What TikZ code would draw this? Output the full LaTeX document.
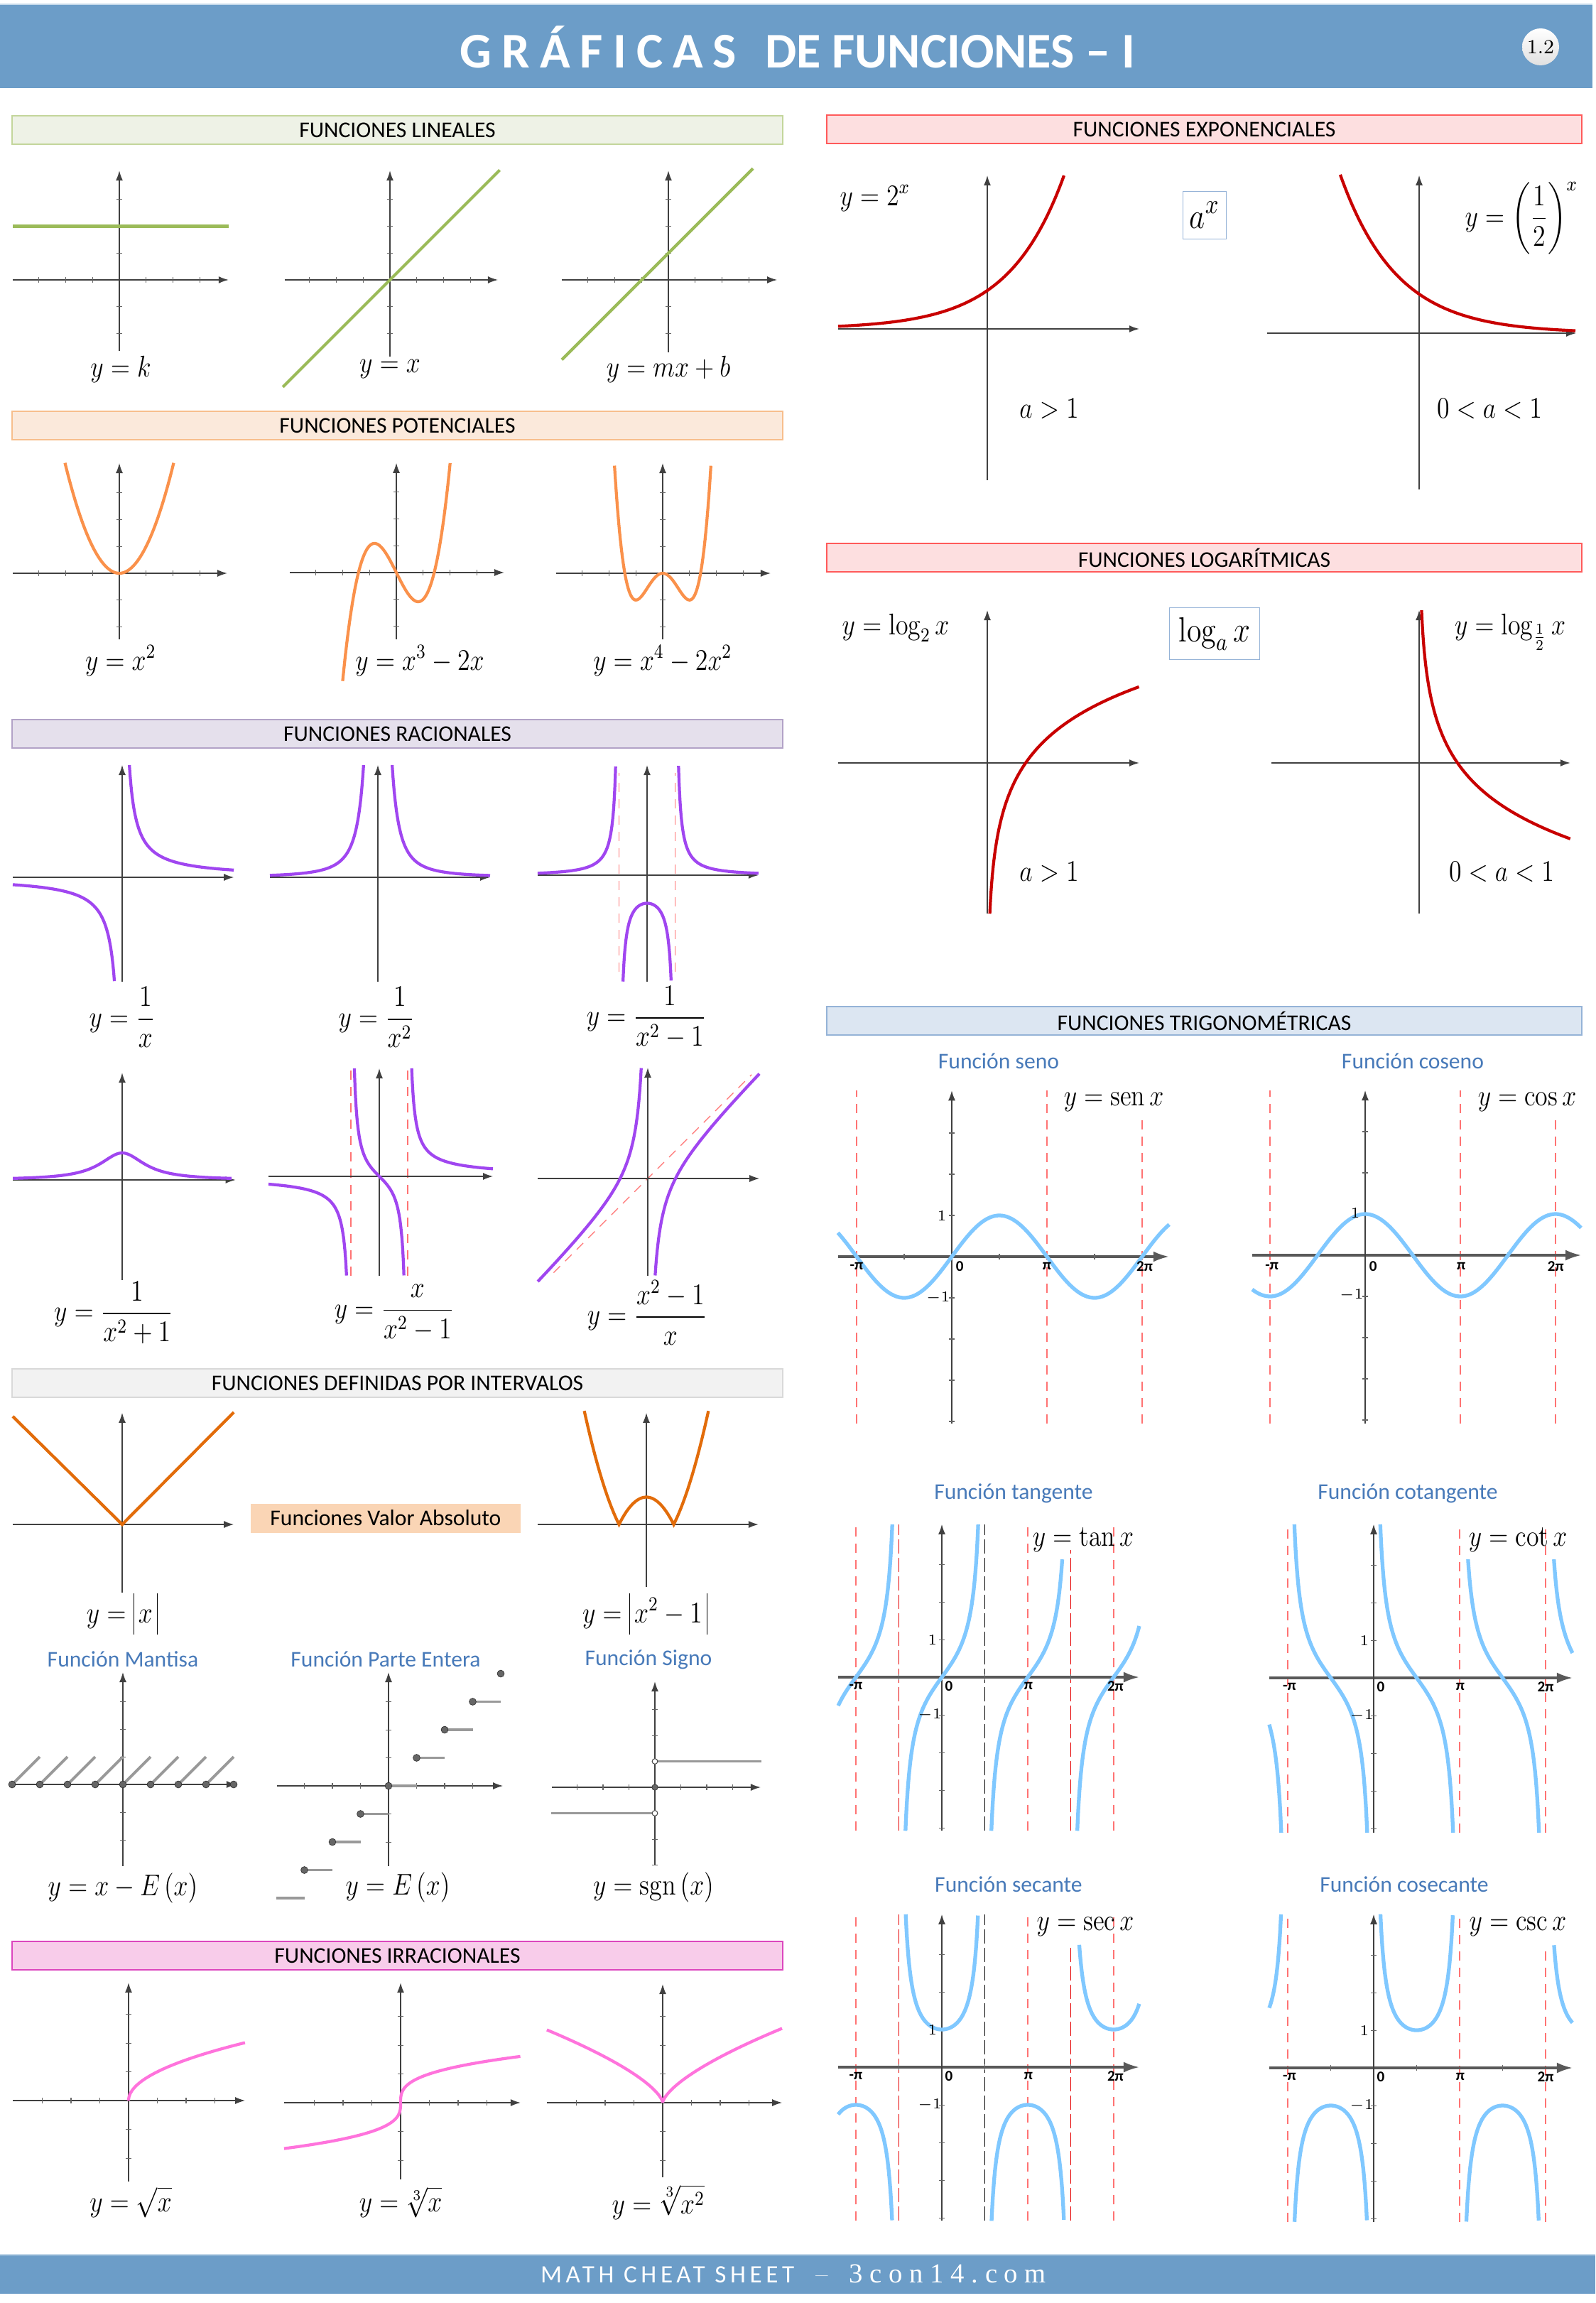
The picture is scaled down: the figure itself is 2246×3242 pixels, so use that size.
\documentclass[tikz,border=0pt]{standalone}
\usepackage{fontspec}
\usepackage{amsmath}
\usepackage{graphicx}
\usetikzlibrary{arrows.meta}
\newfontfamily\calibri{Carlito}
\newfontfamily\tnr{Liberation Serif}

\definecolor{barra}{RGB}{108,157,200}
\definecolor{verde}{RGB}{155,187,89}
\definecolor{naranja}{RGB}{250,145,75}
\definecolor{morado}{RGB}{160,70,240}
\definecolor{ocre}{RGB}{226,108,10}
\definecolor{rosa}{RGB}{255,115,220}
\definecolor{rojo}{RGB}{200,0,0}
\definecolor{celeste}{RGB}{128,200,255}
\definecolor{azultxt}{RGB}{72,122,185}
\definecolor{cajaazul}{RGB}{149,179,215}
\definecolor{valabs}{RGB}{250,213,181}

\newcommand{\fml}[1]{\scalebox{0.85}[1]{$\displaystyle #1$}}
\newcommand{\bv}{\mathord{\vrule width 0.45pt height 2.3ex depth 0.9ex}}
\newcommand{\ejes}[4]{\draw[eje] (#1,0) -- (#2,0); \draw[eje] (0,#3) -- (0,#4);}
\newcommand{\marcas}[2]{\foreach \tk in {#1} {\draw[marca] (\tk,0) +(0,-1.2pt) -- +(0,1.2pt);}\foreach \tk in {#2} {\draw[marca] (0,\tk) +(-1.2pt,0) -- +(1.2pt,0);}}

\tikzset{
  eje/.style={draw=black!75, line width=0.4pt, -{Latex[length=1.4mm,width=1mm]}},
  ejex/.style={draw=black!65, line width=0.9pt, -{Latex[length=2.2mm,width=1.5mm]}},
  marca/.style={draw=black!60, line width=0.3pt},
  curva/.style={line width=1.2pt},
  curvatrig/.style={draw=celeste, line width=1.5pt},
  asintota/.style={draw=red!55, line width=0.35pt, dash pattern=on 1.3mm off 1mm},
  asinfuerte/.style={draw=red!90!black, line width=0.4pt, dash pattern=on 2mm off 0.6mm},
  asinnegra/.style={draw=black, line width=0.3pt, dash pattern=on 2mm off 0.6mm},
  cabecera/.style={draw, line width=0.6pt, minimum height=4mm, inner sep=0pt, font=\calibri\fontsize{9}{10}\selectfont},
  izq/.style={cabecera, minimum width=108.5mm},
  der/.style={cabecera, minimum width=106.3mm},
  subtitulo/.style={text=azultxt, inner sep=0pt, font=\calibri\fontsize{9}{10}\selectfont},
  formula/.style={inner sep=0pt, font=\fontsize{12}{14}\selectfont},
  etiq/.style={inner sep=0pt, font=\calibri\bfseries\fontsize{6}{7}\selectfont},
  etiqy/.style={inner sep=0pt, font=\fontsize{6}{7}\selectfont},
  punto/.style={fill=black!60, draw=black!80, line width=0.2pt},
  escalon/.style={draw=black!40, line width=1.1pt},
}

\begin{document}
\begin{tikzpicture}[x=0.1mm,y=-0.1mm]
%%%%% START %%%%%
\useasboundingbox (0,0) rectangle (2246,3242);

% cabecera y pie
\fill[barra] (0,6) rectangle (2242,124);
\draw[barra!40, line width=0.8pt] (0,6) -- (2242,6);
\node[text=white, font=\calibri\bfseries\fontsize{20}{24}\selectfont] (titulo) at (1123,66)
  {{\addfontfeatures{LetterSpace=20}GRÁFICAS}\hspace{4mm}DE FUNCIONES – I};
\node[circle, minimum size=5.2mm, inner sep=0pt, top color=white, bottom color=black!12, font=\fontsize{8}{9}\selectfont] (num) at (2169,66) {1.2};
\fill[barra] (0,3174) rectangle (2246,3229);
\draw[barra!40, line width=0.8pt] (0,3174) -- (2246,3174);
\node[text=white] (pie) at (1117,3201)
  {{\calibri\fontsize{10}{11}\selectfont\addfontfeatures{LetterSpace=16}MATH CHEAT SHEET}\hspace{3mm}–\hspace{3mm}{\tnr\fontsize{11}{12}\selectfont\addfontfeatures{LetterSpace=25}3con14.com}};

% rotulos de seccion
\node[izq, fill={rgb,255:red,238;green,242;blue,230}, draw={rgb,255:red,195;green,214;blue,155}] (hlin) at (559.5,183) {FUNCIONES LINEALES};
\node[izq, fill={rgb,255:red,251;green,233;blue,219}, draw={rgb,255:red,247;green,190;blue,140}] (hpot) at (559.5,599) {FUNCIONES POTENCIALES};
\node[izq, fill={rgb,255:red,229;green,224;blue,236}, draw={rgb,255:red,178;green,162;blue,199}] (hrac) at (559.5,1033) {FUNCIONES RACIONALES};
\node[izq, fill={rgb,255:red,242;green,242;blue,242}, draw={rgb,255:red,217;green,217;blue,217}] (hint) at (559.5,1947) {FUNCIONES DEFINIDAS POR INTERVALOS};
\node[izq, fill={rgb,255:red,248;green,204;blue,234}, draw={rgb,255:red,220;green,70;blue,190}] (hirr) at (559.5,2753) {FUNCIONES IRRACIONALES};
\node[der, fill={rgb,255:red,253;green,223;blue,224}, draw={rgb,255:red,255;green,90;blue,90}] (hexp) at (1695.5,182) {FUNCIONES EXPONENCIALES};
\node[der, fill={rgb,255:red,253;green,223;blue,224}, draw={rgb,255:red,255;green,90;blue,90}] (hlog) at (1695.5,785) {FUNCIONES LOGARÍTMICAS};
\node[der, fill={rgb,255:red,220;green,230;blue,242}, draw=cajaazul] (htri) at (1695.5,1437) {FUNCIONES TRIGONOMÉTRICAS};

% lineales
\begin{scope}[shift={(168,394)},x=3.77mm,y=3.77mm]
  \ejes{-3.98}{4.08}{-2.65}{4.08}
  \marcas{-3,-2,-1,1,2,3}{-2,-1,1,2,3}
  \draw[verde, curva] (-3.98,2) -- (4.08,2);
\end{scope}
\begin{scope}[shift={(549,394)},x=3.77mm,y=3.77mm]
  \ejes{-3.93}{4.03}{-2.86}{4.08}
  \marcas{-3,-2,-1,1,2,3}{-2,-1,1,2,3}
  \draw[verde, curva] (-4,-4) -- (4.1,4.1);
\end{scope}
\begin{scope}[shift={(941,394)},x=3.77mm,y=3.77mm]
  \ejes{-3.98}{4.06}{-2.7}{4.08}
  \marcas{-3,-2,-1,1,2,3}{-2,-1,1,2,3}
  \draw[verde, curva] (-3.98,-2.98) -- (3.16,4.16);
\end{scope}
\node[formula] (lk) at (170,520) {\fml{y=k}};
\node[formula] (lx) at (549,520) {\fml{y=x}};
\node[formula] (lmx) at (941,520) {\fml{y=mx+b}};

% potenciales
\begin{scope}[shift={(168,807)},x=3.77mm,y=3.77mm]
  \ejes{-3.98}{4.03}{-2.47}{4.11}
  \marcas{-3,-2,-1,1,2,3}{-2,-1,1,2,3}
  \draw[naranja, curva, domain=-2.03:2.03, samples=80] plot (\x,{\x*\x});
\end{scope}
\begin{scope}[shift={(558,806)},x=3.77mm,y=3.77mm]
  \ejes{-3.98}{4.03}{-2.49}{4.09}
  \marcas{-3,-2,-1,1,2,3}{-2,-1,1,2,3}
  \draw[naranja, curva, domain=-2.005:2.01, samples=100] plot (\x,{\x*\x*\x-2*\x});
\end{scope}
\begin{scope}[shift={(933,807)},x=3.77mm,y=3.77mm]
  \ejes{-3.98}{4.03}{-2.47}{4.11}
  \marcas{-3,-2,-1,1,2,3}{-2,-1,1,2,3}
  \draw[naranja, curva, domain=-1.8:1.8, samples=100] plot (\x,{\x*\x*\x*\x-2*\x*\x});
\end{scope}
\node[formula] (lp2) at (170,930) {\fml{y=x^2}};
\node[formula] (lp3) at (591,930) {\fml{y=x^3-2x}};
\node[formula] (lp4) at (933,930) {\fml{y=x^4-2x^2}};

% racionales
\begin{scope}[shift={(172,1235)},x=4mm,y=4mm]
  \ejes{-3.85}{3.93}{-3.68}{3.95}
  \draw[morado, curva, domain=0.253:3.93, samples=150] plot (\x,{1/\x});
  \draw[morado, curva, domain=-3.85:-0.272, samples=150] plot (\x,{1/\x});
\end{scope}
\begin{scope}[shift={(532,1235)},x=4mm,y=4mm]
  \ejes{-3.8}{3.95}{-3.68}{3.95}
  \draw[morado, curva, domain=-3.8:-0.503, samples=150] plot (\x,{1/(\x*\x)});
  \draw[morado, curva, domain=0.503:3.95, samples=150] plot (\x,{1/(\x*\x)});
\end{scope}
\begin{scope}[shift={(911,1232)},x=3.95mm,y=3.95mm]
  \draw[asintota] (-1,-3.44) -- (-1,3.65);
  \draw[asintota] (1,-3.44) -- (1,3.65);
  \ejes{-3.9}{3.97}{-3.8}{3.92}
  \draw[morado, curva, domain=-3.9:-1.121, samples=150] plot (\x,{1/(\x*\x-1)});
  \draw[morado, curva, domain=-0.858:0.858, samples=100] plot (\x,{1/(\x*\x-1)});
  \draw[morado, curva, domain=1.121:3.97, samples=150] plot (\x,{1/(\x*\x-1)});
\end{scope}
\node[formula] (lr1) at (172,1432) {\fml{y=\frac{1}{x}}};
\node[formula] (lr2) at (530,1432) {\fml{y=\frac{1}{x^2}}};
\node[formula] (lr3) at (910,1432) {\fml{y=\frac{1}{x^2-1}}};

\begin{scope}[shift={(172,1661)},x=3.8mm,y=3.8mm]
  \ejes{-4.05}{4.2}{-3.7}{3.97}
  \draw[morado, curva, domain=-4.05:4.05, samples=100] plot (\x,{1/(\x*\x+1)});
\end{scope}
\begin{scope}[shift={(534,1656)},x=4mm,y=4mm]
  \draw[asintota] (-1,-3.5) -- (-1,3.8);
  \draw[asintota] (1,-3.5) -- (1,3.8);
  \ejes{-3.9}{4.0}{-3.5}{3.8}
  \draw[morado, curva, domain=-3.9:-1.153, samples=150] plot (\x,{\x/(\x*\x-1)});
  \draw[morado, curva, domain=-0.877:0.867, samples=150] plot (\x,{\x/(\x*\x-1)});
  \draw[morado, curva, domain=1.14:4.0, samples=150] plot (\x,{\x/(\x*\x-1)});
\end{scope}
\begin{scope}[shift={(912,1659)},x=3.9mm,y=3.9mm]
  \draw[asintota] (-3.4,-3.4) -- (3.75,3.75);
  \ejes{-3.97}{4.03}{-3.5}{4.0}
  \draw[morado, curva, domain=-3.97:-0.236, samples=150] plot (\x,{\x-1/\x});
  \draw[morado, curva, domain=0.2656:4.03, samples=150] plot (\x,{\x-1/\x});
\end{scope}
\node[formula] (lr4) at (160,1848) {\fml{y=\frac{1}{x^2+1}}};
\node[formula] (lr5) at (555,1848) {\fml{y=\frac{x}{x^2-1}}};
\node[formula] (lr6) at (911,1848) {\fml{y=\frac{x^2-1}{x}}};

% definidas por intervalos
\begin{scope}[shift={(172,2146)},x=3.9mm,y=3.9mm]
  \ejes{-3.95}{4.03}{-2.46}{4.03}
  \draw[ocre, curva] (-3.95,3.9) -- (0,0) -- (4.03,4.05);
\end{scope}
\node[fill=valabs, minimum width=38mm, minimum height=4.1mm, inner sep=0pt, font=\calibri\fontsize{9}{10}\selectfont] (vabs) at (543,2137) {Funciones Valor Absoluto};
\begin{scope}[shift={(910,2146)},x=3.85mm,y=3.85mm]
  \ejes{-3.97}{4.1}{-2.29}{4.08}
  \draw[ocre, curva, domain=-2.27:-1, samples=50] plot (\x,{\x*\x-1}) -- plot[domain=-1:1, samples=60] (\x,{1-\x*\x}) -- plot[domain=1:2.27, samples=50] (\x,{\x*\x-1});
\end{scope}
\node[formula] (la1) at (172,2272) {\fml{y=\bv\, x\,\bv}};
\node[formula] (la2) at (908,2272) {\fml{y=\bv\, x^2-1\,\bv}};

\node[subtitulo] (smant) at (173,2336) {Función Mantisa};
\node[subtitulo] (sent) at (543,2336) {Función Parte Entera};
\node[subtitulo] (ssig) at (913,2336) {Función Signo};

\begin{scope}[shift={(173,2512)},x=3.9mm,y=3.9mm]
  \ejes{-3.97}{4.1}{-2.95}{4.05}
  \marcas{-3,-2,-1,1,2,3}{-2,-1,1,2,3}
  \foreach \k in {-4,...,3} {\draw[escalon] (\k,0) -- (\k+1,1);}
  \foreach \k in {-4,...,4} {\draw[punto] (\k,0) circle (1.4pt);}
\end{scope}
\begin{scope}[shift={(547,2514)},x=3.95mm,y=3.95mm]
  \ejes{-3.97}{4.08}{-2.86}{4.05}
  \marcas{-3,-2,-1,1,2,3}{-2,-1,1,2,3}
  \foreach \k in {-4,...,3} {\draw[escalon] (\k,\k) -- (\k+1,\k);}
  \foreach \k in {-3,...,4} {\draw[punto] (\k,\k) circle (1.4pt);}
\end{scope}
\begin{scope}[shift={(922,2516)},x=3.65mm,y=3.65mm]
  \ejes{-3.97}{4.08}{-3.0}{4.08}
  \marcas{-3,-2,-1,1,2,3}{-3,-2,-1,1,2,3}
  \draw[escalon] (0,1) -- (4.1,1);
  \draw[escalon] (-4.0,-1) -- (0,-1);
  \draw[fill=white, draw=black!70, line width=0.3pt] (0,1) circle (1.1pt);
  \draw[fill=white, draw=black!70, line width=0.3pt] (0,-1) circle (1.1pt);
  \draw[punto] (0,0) circle (1.2pt);
\end{scope}
\node[formula] (lm) at (173,2658) {\fml{y=x-E\left(x\right)}};
\node[formula] (le) at (560,2657) {\fml{y=E\left(x\right)}};
\node[formula] (ls) at (920,2657) {\fml{y=\operatorname{sgn}\left(x\right)}};

% irracionales
\begin{scope}[shift={(181,2957)},x=4.05mm,y=4.05mm]
  \ejes{-4.02}{4.05}{-2.81}{4.1}
  \marcas{-3,-2,-1,1,2,3}{-2,-1,1,2,3}
  \draw[rosa, curva, domain=0:2.0125, samples=80] plot ({\x*\x},\x);
\end{scope}
\begin{scope}[shift={(564,2960)},x=4.05mm,y=4.05mm]
  \ejes{-4.05}{4.17}{-2.67}{4.17}
  \marcas{-3,-2,-1,1,2,3}{-2,-1,1,2,3}
  \draw[rosa, curva, domain=-1.594:1.61, samples=100] plot ({\x*\x*\x},\x);
\end{scope}
\begin{scope}[shift={(933,2960)},x=4.05mm,y=4.05mm]
  \ejes{-4.02}{4.15}{-2.6}{4.12}
  \marcas{-3,-2,-1,1,2,3}{-2,-1,1,2,3}
  \draw[rosa, curva, domain=-1.591:1.607, samples=100] plot ({\x*\x*\x},{\x*\x});
\end{scope}
\node[formula] (li1) at (184,3100) {\fml{y=\sqrt{x}}};
\node[formula] (li2) at (564,3100) {\fml{y=\sqrt[3]{x}}};
\node[formula] (li3) at (927,3100) {\fml{y=\sqrt[3]{x^2}}};

% exponenciales
\begin{scope}[shift={(1390,463)},x=5.4mm,y=5.4mm]
  \draw[eje] (-3.89,0) -- (3.96,0);
  \draw[eje] (0,-3.94) -- (0,4.0);
  \draw[rojo, curva, domain=-3.89:2.0, samples=100] plot (\x,{pow(2,\x)});
\end{scope}
\begin{scope}[shift={(1998,469)},x=5.5mm,y=5.5mm]
  \draw[eje] (-3.9,0) -- (4.02,0);
  \draw[eje] (0,-4.0) -- (0,4.04);
  \draw[rojo, curva, domain=-2.02:4.0, samples=100] plot (\x,{pow(0.5,\x)});
\end{scope}
\node[formula] (le1) at (1232,279) {\fml{y=2^x}};
\node[formula] (le2) at (1477,575) {\fml{a>1}};
\node[formula] (le3) at (2142,307) {\fml{y=\left(\frac{1}{2}\right)^x}};
\node[formula] (le4) at (2097,575) {\fml{0<a<1}};
\node[draw=cajaazul, line width=0.5pt, minimum width=6.1mm, minimum height=6.7mm, inner sep=0pt, font=\fontsize{15}{17}\selectfont] (bax) at (1696,303) {\fml{a^x}};

% logaritmicas
\begin{scope}[shift={(1390,1074)},x=5.4mm,y=5.4mm]
  \draw[eje] (-3.89,0) -- (3.96,0);
  \draw[eje] (0,-3.93) -- (0,3.98);
  \draw[rojo, curva, domain=-3.93:1.985, samples=120] plot ({pow(2,\x)},\x);
\end{scope}
\begin{scope}[shift={(1998,1074)},x=5.4mm,y=5.4mm]
  \draw[eje] (-3.85,0) -- (3.94,0);
  \draw[eje] (0,-3.93) -- (0,3.98);
  \draw[rojo, curva, domain=-1.978:3.98, samples=120] plot ({pow(0.5,\x)},\x);
\end{scope}
\node[formula] (ll1) at (1261,884) {\fml{y=\log_2 x}};
\node[formula] (ll2) at (1477,1227) {\fml{a>1}};
\node[formula] (ll3) at (2126,890) {\fml{y=\log_{\frac{1}{2}} x}};
\node[formula] (ll4) at (2114,1227) {\fml{0<a<1}};
\node[draw=cajaazul, line width=0.5pt, minimum width=12.7mm, minimum height=7.3mm, inner sep=0pt, font=\fontsize{14}{16}\selectfont] (blog) at (1710,892) {\fml{\log_a x}};

% trigonometricas
\node[subtitulo] (ssen) at (1406,1494) {Función seno};
\node[subtitulo] (scos) at (1989,1494) {Función coseno};
\node[subtitulo] (stan) at (1427,2102) {Función tangente};
\node[subtitulo] (scot) at (1982,2102) {Función cotangente};
\node[subtitulo] (ssec) at (1420,2653) {Función secante};
\node[subtitulo] (scsc) at (1977,2653) {Función cosecante};

\begin{scope}[shift={(1340,1769)},x=4.265mm,y=5.8mm]
  \draw[asintota] (-pi,-4.05) -- (-pi,4.03);
  \draw[asintota] (pi,-4.05) -- (pi,4.03);
  \draw[asintota] (2*pi,-4.05) -- (2*pi,3.34);
  \draw[ejex] (-3.75,0) -- (7.17,0);
  \draw[eje] (0,-4.05) -- (0,4.03);
  \marcas{-1.5708,1.5708,4.7124}{-4,-3,-2,-1,1,2,3}
  \draw[curvatrig, domain=-3.76:7.18, samples=150] plot (\x,{sin(\x r)});
  \node[etiq] (sa) at (-pi,-0.24) {-π};
  \node[etiq] (sb) at (0.26,-0.24) {0};
  \node[etiq] (sc) at (pi,-0.24) {π};
  \node[etiq] (sd) at (6.37,-0.24) {2π};
  \node[etiqy] (se) at (-0.33,1) {1};
  \node[etiqy] (sf) at (-0.45,-1) {$-1$};
\end{scope}
\node[formula] (lsen) at (1568,1551) {\fml{y=\operatorname{sen} x}};

\begin{scope}[shift={(1922,1767)},x=4.265mm,y=5.8mm]
  \draw[asintota] (-pi,-4.09) -- (-pi,4.0);
  \draw[asintota] (pi,-4.09) -- (pi,4.0);
  \draw[asintota] (2*pi,-4.09) -- (2*pi,3.31);
  \draw[ejex] (-3.73,0) -- (7.13,0);
  \draw[eje] (0,-4.09) -- (0,4.0);
  \marcas{-1.5708,1.5708,4.7124}{-4,-3,-2,-1,1,2,3}
  \draw[curvatrig, domain=-3.73:7.13, samples=150] plot (\x,{cos(\x r)});
  \node[etiq] (ca) at (-3.08,-0.27) {-π};
  \node[etiq] (cb) at (0.26,-0.27) {0};
  \node[etiq] (cc) at (3.17,-0.27) {π};
  \node[etiq] (cd) at (6.29,-0.27) {2π};
  \node[etiqy] (ce) at (-0.33,1.03) {1};
  \node[etiqy] (cf) at (-0.45,-0.97) {$-1$};
\end{scope}
\node[formula] (lcos) at (2150,1551) {\fml{y=\cos x}};

\begin{scope}[shift={(1326,2361)},x=3.85mm,y=5.3mm]
  \draw[asintota] (-pi,-4.08) -- (-pi,4.06);
  \draw[asintota] (pi,-4.08) -- (pi,4.06);
  \draw[asintota] (2*pi,-4.08) -- (2*pi,4.06);
  \draw[asinfuerte] (-pi/2,-4.08) -- (-pi/2,4.06);
  \draw[asinfuerte] (3*pi/2,-4.08) -- (3*pi/2,3.38);
  \draw[asinnegra] (pi/2,-4.08) -- (pi/2,4.06);
  \draw[ejex] (-3.79,0) -- (7.22,0);
  \draw[eje] (0,-4.08) -- (0,4.06);
  \marcas{-1.5708,1.5708,4.7124}{-4,-3,-2,-1,1,2,3}
  \draw[curvatrig, domain=-0.757:4.06, samples=120] plot ({rad(atan(\x))-pi},\x);
  \draw[curvatrig, domain=-4.08:4.06, samples=150] plot ({rad(atan(\x))},\x);
  \draw[curvatrig, domain=-4.08:3.13, samples=150] plot ({rad(atan(\x))+pi},\x);
  \draw[curvatrig, domain=-4.08:1.36, samples=120] plot ({rad(atan(\x))+2*pi},\x);
  \node[etiq] (ta) at (-pi,-0.23) {-π};
  \node[etiq] (tb) at (0.26,-0.23) {0};
  \node[etiq] (tc) at (3.17,-0.23) {π};
  \node[etiq] (td) at (6.35,-0.23) {2π};
  \node[etiqy] (te) at (-0.34,1) {1};
  \node[etiqy] (tf) at (-0.44,-1) {$-1$};
\end{scope}
\node[formula] (ltan) at (1525,2168) {\fml{y=\tan x}};

\begin{scope}[shift={(1934,2362)},x=3.85mm,y=5.3mm]
  \draw[asintota] (-pi,-4.11) -- (-pi,4.08);
  \draw[asintota] (pi,-4.11) -- (pi,4.08);
  \draw[asintota] (2*pi,-4.11) -- (2*pi,4.08);
  \draw[ejex] (-3.82,0) -- (7.27,0);
  \draw[eje] (0,-4.11) -- (0,4.08);
  \marcas{-1.5708,1.5708,4.7124}{-4,-3,-2,-1,1,2,3}
  \draw[curvatrig, domain=-4.11:-1.238, samples=80] plot ({-3*pi/2-rad(atan(\x))},\x);
  \draw[curvatrig, domain=-4.11:4.08, samples=150] plot ({-pi/2-rad(atan(\x))},\x);
  \draw[curvatrig, domain=-4.11:4.08, samples=150] plot ({pi/2-rad(atan(\x))},\x);
  \draw[curvatrig, domain=-4.11:3.15, samples=150] plot ({3*pi/2-rad(atan(\x))},\x);
  \draw[curvatrig, domain=0.661:3.15, samples=80] plot ({5*pi/2-rad(atan(\x))},\x);
  \node[etiq] (ka) at (-3.08,-0.23) {-π};
  \node[etiq] (kb) at (0.26,-0.23) {0};
  \node[etiq] (kc) at (3.17,-0.23) {π};
  \node[etiq] (kd) at (6.29,-0.23) {2π};
  \node[etiqy] (ke) at (-0.34,1) {1};
  \node[etiqy] (kf) at (-0.44,-1) {$-1$};
\end{scope}
\node[formula] (lcot) at (2137,2168) {\fml{y=\cot x}};

\begin{scope}[shift={(1326,2910)},x=3.85mm,y=5.3mm]
  \draw[asintota] (-pi,-4.08) -- (-pi,4.06);
  \draw[asintota] (pi,-4.08) -- (pi,4.06);
  \draw[asintota] (2*pi,-4.08) -- (2*pi,4.06);
  \draw[asinfuerte] (-pi/2,-4.08) -- (-pi/2,4.06);
  \draw[asinfuerte] (3*pi/2,-4.08) -- (3*pi/2,3.25);
  \draw[asinnegra] (pi/2,-4.08) -- (pi/2,4.06);
  \draw[ejex] (-3.79,0) -- (7.22,0);
  \draw[eje] (0,-4.08) -- (0,4.06);
  \marcas{-1.5708,1.5708,4.7124}{-4,-3,-2,-1,1,2,3}
  \draw[curvatrig, domain=-3.79:-1.8183, samples=200] plot (\x,{1/cos(\x r)});
  \draw[curvatrig, domain=-1.3219:1.3219, samples=200] plot (\x,{1/cos(\x r)});
  \draw[curvatrig, domain=1.8183:4.4649, samples=200] plot (\x,{1/cos(\x r)});
  \draw[curvatrig, domain=5.0252:7.22, samples=200] plot (\x,{1/cos(\x r)});
  \node[etiq] (ea) at (-pi,-0.23) {-π};
  \node[etiq] (eb) at (0.26,-0.23) {0};
  \node[etiq] (ec) at (3.17,-0.23) {π};
  \node[etiq] (ed) at (6.35,-0.23) {2π};
  \node[etiqy] (ee) at (-0.34,1) {1};
  \node[etiqy] (ef) at (-0.44,-1) {$-1$};
\end{scope}
\node[formula] (lsec) at (1528,2712) {\fml{y=\sec x}};

\begin{scope}[shift={(1934,2911)},x=3.85mm,y=5.3mm]
  \draw[asintota] (-pi,-4.09) -- (-pi,4.08);
  \draw[asintota] (pi,-4.09) -- (pi,4.08);
  \draw[asintota] (2*pi,-4.09) -- (2*pi,3.13);
  \draw[ejex] (-3.82,0) -- (7.27,0);
  \draw[eje] (0,-4.09) -- (0,4.08);
  \marcas{-1.5708,1.5708,4.7124}{-4,-3,-2,-1,1,2,3}
  \draw[curvatrig, domain=-3.82:-3.389, samples=100] plot (\x,{1/sin(\x r)});
  \draw[curvatrig, domain=-2.8945:-0.2471, samples=200] plot (\x,{1/sin(\x r)});
  \draw[curvatrig, domain=0.2475:2.894, samples=200] plot (\x,{1/sin(\x r)});
  \draw[curvatrig, domain=3.389:6.036, samples=200] plot (\x,{1/sin(\x r)});
  \draw[curvatrig, domain=6.595:7.27, samples=100] plot (\x,{1/sin(\x r)});
  \node[etiq] (da) at (-3.08,-0.23) {-π};
  \node[etiq] (db) at (0.26,-0.23) {0};
  \node[etiq] (dc) at (3.17,-0.23) {π};
  \node[etiq] (dd) at (6.29,-0.23) {2π};
  \node[etiqy] (de) at (-0.34,1) {1};
  \node[etiqy] (df) at (-0.44,-1) {$-1$};
\end{scope}
\node[formula] (lcsc) at (2137,2712) {\fml{y=\csc x}};
%%%%% END %%%%%
\end{tikzpicture}
\end{document}
